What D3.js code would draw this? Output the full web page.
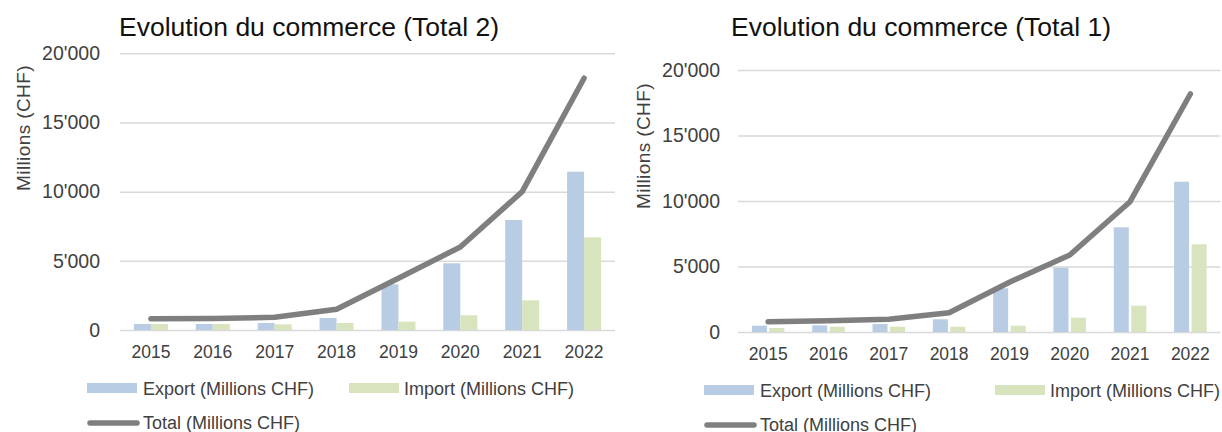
<!DOCTYPE html>
<html>
<head>
  <meta charset="utf-8">
  <script src="https://cdn.jsdelivr.net/npm/d3@7"></script>
  <style>
    body { margin: 0; background: #fff; }
    svg { display: block; font-family: "Liberation Sans", Arial, sans-serif; }
    .grid line { stroke: #d9d9d9; stroke-width: 1.5; }
    .grid path { display: none; }
    .tick text { fill: #404040; }
  </style>
</head>
<body>
<script>
  // values (millions CHF)
  var years = ["2015", "2016", "2017", "2018", "2019", "2020", "2021", "2022"];
  var yTicks = [0, 5000, 10000, 15000, 20000];

  var exportT2 = [434, 434, 506, 867, 3303, 4821, 7950, 11442];
  var importT2 = [434, 434, 410, 506, 600, 1062, 2147, 6700];
  var totalT2  = [817, 830, 918, 1496, 3740, 6000, 10000, 18200];

  var exportT1 = [480, 510, 610, 970, 3336, 4908, 7992, 11473];
  var importT1 = [305, 405, 405, 405, 480, 1092, 2008, 6695];
  var totalT1  = [790, 850, 970, 1475, 3800, 5878, 9947, 18168];

  var seriesNames = ["Export (Millions CHF)", "Import (Millions CHF)", "Total (Millions CHF)"];
  var colors = { exp: "#b8cce4", imp: "#d7e4bd", tot: "#7f7f7f" };

  // swiss style thousands: 20'000
  var fmt = d3.formatLocale({ decimal: ".", thousands: "'", grouping: [3], currency: ["", ""] }).format(",");

  var svg = d3.select("body").append("svg")
    .attr("width", 1222)
    .attr("height", 432);

  function drawChart(c) {
    var g = svg.append("g");

    var x = d3.scaleBand().domain(years).range([c.x0, c.x1]);
    var sub = d3.scaleBand().domain(["exp", "imp"])
      .range([0, x.bandwidth()])
      .paddingInner(c.barGap)
      .paddingOuter(c.barOuter);
    var y = d3.scaleLinear().domain([0, 20000]).range([c.yBase, c.yTop]);

    // title
    g.append("text")
      .attr("x", c.titleX)
      .attr("y", 36)
      .attr("fill", "#111")
      .style("font-size", "26.5px")
      .text(c.title);

    // y axis label
    g.append("text")
      .attr("transform", "translate(" + c.labelX + "," + c.labelY + ") rotate(-90)")
      .attr("text-anchor", "middle")
      .attr("fill", "#404040")
      .style("font-size", "19px")
      .style("letter-spacing", "0.4px")
      .text("Millions (CHF)");

    // gridlines + tick labels
    g.append("g")
      .attr("class", "grid")
      .attr("transform", "translate(" + c.x0 + ",0)")
      .call(d3.axisLeft(y).tickValues(yTicks).tickFormat(fmt)
        .tickSize(-(c.x1 - c.x0)).tickPadding(c.tickPad))
      .selectAll("text")
      .style("font-size", "19.5px");

    // bars
    var rows = years.map(function (d, i) {
      return { year: d, exp: c.exp[i], imp: c.imp[i], tot: c.tot[i] };
    });
    var grp = g.selectAll(".yr").data(rows).enter().append("g")
      .attr("transform", function (d) { return "translate(" + x(d.year) + ",0)"; });
    grp.selectAll("rect")
      .data(function (d) { return [{ k: "exp", v: d.exp }, { k: "imp", v: d.imp }]; })
      .enter().append("rect")
      .attr("x", function (d) { return sub(d.k); })
      .attr("width", sub.bandwidth())
      .attr("y", function (d) { return y(d.v); })
      .attr("height", function (d) { return y(0) - y(d.v); })
      .attr("fill", function (d) { return colors[d.k]; });

    // total line
    var line = d3.line()
      .x(function (d) { return x(d.year) + x.bandwidth() / 2; })
      .y(function (d) { return y(d.tot); });
    g.append("path")
      .datum(rows)
      .attr("d", line)
      .attr("fill", "none")
      .attr("stroke", colors.tot)
      .attr("stroke-width", 5.5)
      .attr("stroke-linecap", "round")
      .attr("stroke-linejoin", "round");

    // year labels
    g.selectAll(".yl").data(years).enter().append("text")
      .attr("x", function (d) { return x(d) + x.bandwidth() / 2; })
      .attr("y", c.yBase + 28)
      .attr("text-anchor", "middle")
      .attr("fill", "#404040")
      .style("font-size", "17.5px")
      .text(function (d) { return d; });

    // legend
    var lg = g.append("g").style("font-size", "18px").attr("fill", "#404040");
    lg.append("rect").attr("x", c.lgX).attr("y", c.lgY1 - 5).attr("width", 50).attr("height", 10).attr("fill", colors.exp);
    lg.append("text").attr("x", c.lgX + 56).attr("y", c.lgY1 + 6.5).text(seriesNames[0]);
    lg.append("rect").attr("x", c.lgX2).attr("y", c.lgY1 - 5).attr("width", 50).attr("height", 10).attr("fill", colors.imp);
    lg.append("text").attr("x", c.lgX2 + 55).attr("y", c.lgY1 + 6.5).text(seriesNames[1]);
    lg.append("line").attr("x1", c.lgX + 3).attr("x2", c.lgX + 50)
      .attr("y1", c.lgY2).attr("y2", c.lgY2)
      .attr("stroke", colors.tot).attr("stroke-width", 5.5).attr("stroke-linecap", "round");
    lg.append("text").attr("x", c.lgX + 56).attr("y", c.lgY2 + 6).text(seriesNames[2]);
  }

  drawChart({
    title: "Evolution du commerce (Total 2)",
    exp: exportT2, imp: importT2, tot: totalT2,
    x0: 120, x1: 615, yBase: 330, yTop: 53.3, tickPad: 20,
    barGap: 0, barOuter: 0.82,
    titleX: 119, labelX: 30, labelY: 128,
    lgX: 87, lgX2: 349, lgY1: 388, lgY2: 423
  });

  drawChart({
    title: "Evolution du commerce (Total 1)",
    exp: exportT1, imp: importT1, tot: totalT1,
    x0: 738, x1: 1220.5, yBase: 332, yTop: 70, tickPad: 18,
    barGap: 0.143, barOuter: 0.794,
    titleX: 731, labelX: 650, labelY: 146,
    lgX: 704, lgX2: 995, lgY1: 390, lgY2: 425
  });
</script>
</body>
</html>
